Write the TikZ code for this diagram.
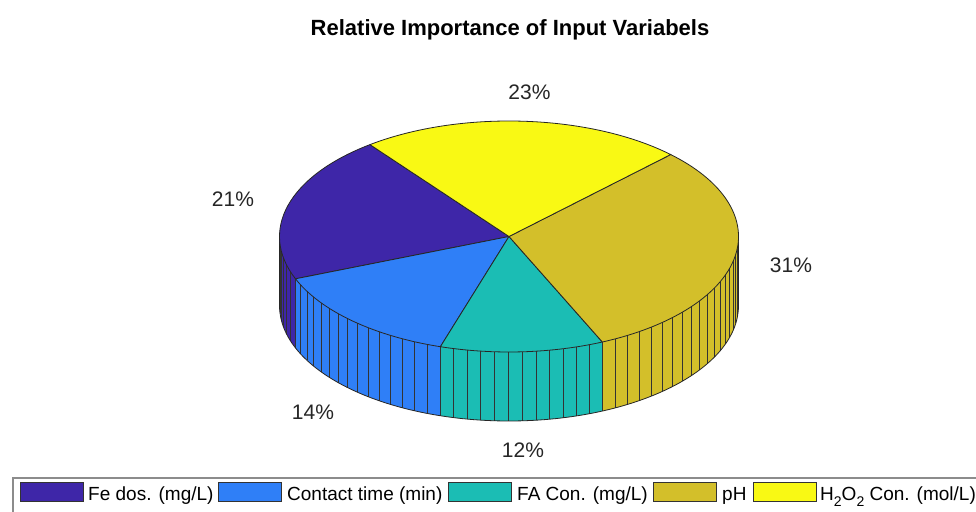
\documentclass[tikz,border=0pt]{standalone}
\usepackage{fontspec}
\setmainfont{Liberation Sans}
\definecolor{feblue}{RGB}{62,38,168}
\definecolor{ctblue}{RGB}{47,127,247}
\definecolor{fateal}{RGB}{27,189,180}
\definecolor{phol}{RGB}{211,191,42}
\definecolor{h2yel}{RGB}{249,249,20}
\def\cx{509}\def\cy{274.5}\def\rx{229.5}\def\ry{115.5}\def\dep{69}
\newcommand\mysideface[3]{%
  \fill[#1] ({\cx+\rx*cos(#2)},{\cy+\ry*sin(#2)}) arc[start angle=#2,end angle=#3,x radius=\rx,y radius=\ry]
    -- ++(0,-\dep) arc[start angle=#3,end angle=#2,x radius=\rx,y radius=\ry] -- cycle;}
\newcommand\myfacets[3]{%
  \foreach \k in {0,...,#3}{%
    \pgfmathsetmacro\ang{#1+\k*#2}%
    \pgfmathtruncatemacro\ok{((\ang>=180)&&(\ang<=360))?1:0}%
    \ifnum\ok=1
      \draw[facet] ({\cx+\rx*cos(\ang)},{\cy+\ry*sin(\ang)}) -- ++(0,-\dep);
    \fi}}
\newcommand\mytopslice[3]{%
  \filldraw[fill=#1, edge] (\cx,\cy) -- ({\cx+\rx*cos(#2)},{\cy+\ry*sin(#2)})
    arc[start angle=#2,end angle=#3,x radius=\rx,y radius=\ry] -- cycle;}
\begin{document}
\begin{tikzpicture}[x=1pt,y=1pt,
  edge/.style={draw=black!85, line width=0.8pt, line join=round},
  facet/.style={draw=black!80, line width=0.9pt},
  pct/.style={font=\fontsize{21}{21}\selectfont, text=black!85, anchor=base, inner sep=0},
  legtext/.style={font=\fontsize{19}{19}\selectfont, anchor=base west, inner sep=0},
  swatch/.style={draw=black!80, line width=0.7pt, anchor=south west, inner sep=0, minimum width=63pt, minimum height=19pt}]
\useasboundingbox (0,0) rectangle (976,511);
\clip (0,0) rectangle (976,511);
\fill[white] (0,0) rectangle (976,511);
% side faces
\mysideface{feblue}{180}{201.5}
\mysideface{ctblue}{201.5}{252.6}
\mysideface{fateal}{252.6}{294.0}
\mysideface{phol}{294.0}{360}
\myfacets{127.3}{3.533}{21}
\myfacets{201.5}{3.407}{15}
\myfacets{252.6}{3.45}{12}
\myfacets{294.0}{3.587}{31}
\draw[edge] ({\cx-\rx},\cy) -- ++(0,-\dep) arc[start angle=180,end angle=360,x radius=\rx,y radius=\ry] -- ++(0,\dep);
% top faces
\mytopslice{feblue}{127.3}{201.5}
\mytopslice{ctblue}{201.5}{252.6}
\mytopslice{fateal}{252.6}{294.0}
\mytopslice{phol}{294.0}{405.2}
\mytopslice{h2yel}{405.2}{487.3}
% title and labels
\node[font=\bfseries\fontsize{22}{22}\selectfont, anchor=base, inner sep=0] (title) at (510,475) {Relative Importance of Input Variabels};
\node[pct] (p23) at (529.5,411) {23\%};
\node[pct] (p21) at (233,304) {21\%};
\node[pct] (p31) at (791,238) {31\%};
\node[pct] (p14) at (313,91) {14\%};
\node[pct] (p12) at (523,53) {12\%};
% legend
\draw[fill=white, draw=black!45, line width=1.2pt] (13,-5) rectangle (995,33);
\node[swatch, fill=feblue] (s1) at (20,9) {};
\node[legtext] (l1) at (88,10.3) {Fe dos. (mg/L)};
\node[swatch, fill=ctblue] (s2) at (218,9) {};
\node[legtext] (l2) at (287,10.3) {Contact time (min)};
\node[swatch, fill=fateal] (s3) at (448,9) {};
\node[legtext] (l3) at (517,10.3) {FA Con. (mg/L)};
\node[swatch, fill=phol] (s4) at (653,9) {};
\node[legtext] (l4) at (722,10.3) {pH};
\node[swatch, fill=h2yel] (s5) at (753,9) {};
\node[legtext] (l5) at (820,10.3) {H\raisebox{-0.32em}{\fontsize{14}{14}\selectfont 2}O\raisebox{-0.32em}{\fontsize{14}{14}\selectfont 2} Con. (mol/L)};
\end{tikzpicture}
\end{document}
